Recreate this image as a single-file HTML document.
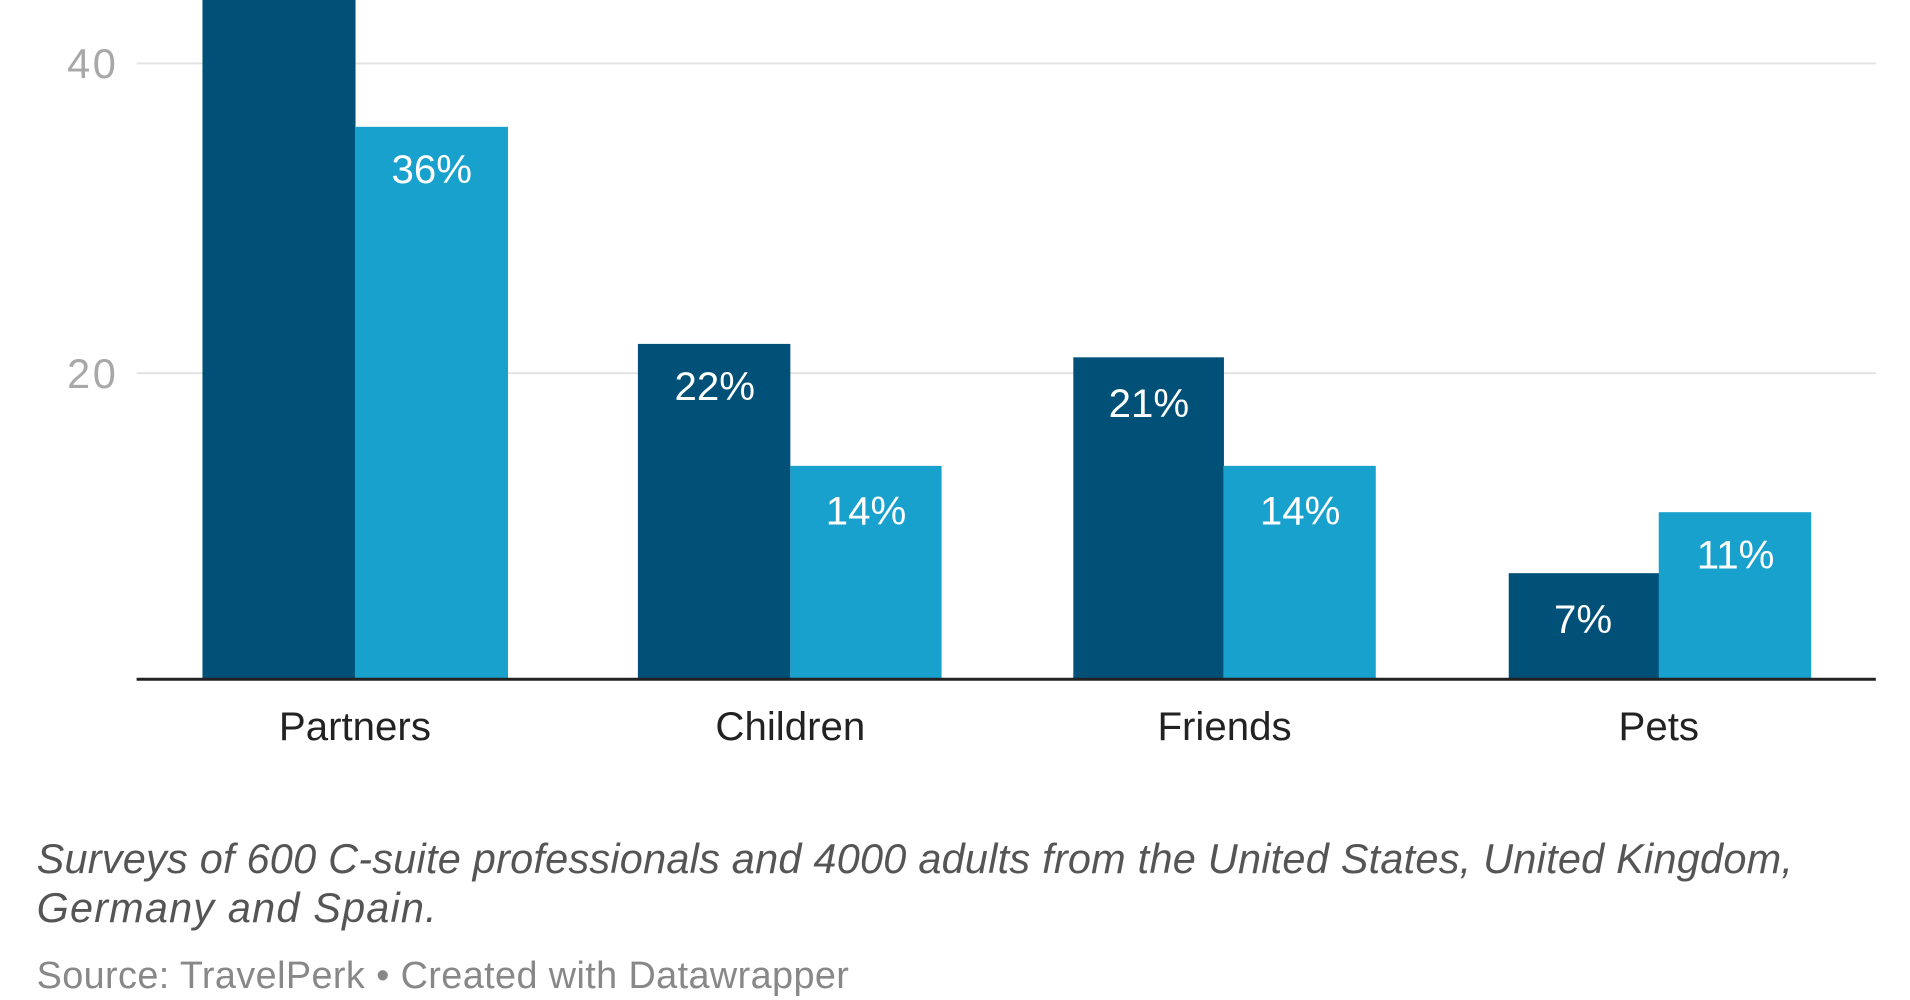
<!DOCTYPE html>
<html><head><meta charset="utf-8"><style>
html,body{margin:0;padding:0;background:#fff;width:1910px;height:1000px;overflow:hidden}
svg{display:block}
text{font-family:"Liberation Sans",sans-serif}
</style></head><body>
<svg width="1910" height="1000" viewBox="0 0 1566 820" preserveAspectRatio="none">
<line x1="112" y1="52" x2="1538" y2="52" stroke="#e2e2e2" stroke-width="1.5"/>
<line x1="112" y1="306" x2="1538" y2="306" stroke="#e2e2e2" stroke-width="1.5"/>
<text x="95" y="64" text-anchor="end" font-size="34" fill="#a8a8a8" textLength="40">40</text>
<text x="95" y="318" text-anchor="end" font-size="34" fill="#a8a8a8" textLength="40">20</text>
<g fill="#005077">
<rect x="166" y="0" width="125.5" height="557"/>
<rect x="523" y="282" width="125" height="275"/>
<rect x="880" y="293" width="123.5" height="264"/>
<rect x="1237" y="470" width="123.5" height="87"/>
</g>
<g fill="#18a1cd">
<rect x="291" y="104" width="125.5" height="453"/>
<rect x="648" y="382" width="124" height="175"/>
<rect x="1003" y="382" width="125" height="175"/>
<rect x="1360" y="420" width="125" height="137"/>
</g>
<line x1="112" y1="557" x2="1538" y2="557" stroke="#222" stroke-width="2.5"/>
<g fill="#fff" font-size="33" text-anchor="middle">
<text x="354" y="150">36%</text>
<text x="586" y="328">22%</text>
<text x="710" y="430">14%</text>
<text x="942" y="342">21%</text>
<text x="1066" y="430">14%</text>
<text x="1298" y="519">7%</text>
<text x="1423" y="466">11%</text>
</g>
<g fill="#222" font-size="33" text-anchor="middle">
<text x="291" y="607">Partners</text>
<text x="648" y="607">Children</text>
<text x="1004" y="607">Friends</text>
<text x="1360" y="607">Pets</text>
</g>
<g fill="#555" font-size="34" font-style="italic">
<text x="30" y="716" textLength="1440">Surveys of 600 C-suite professionals and 4000 adults from the United States, United Kingdom,</text>
<text x="30" y="756" textLength="328">Germany and Spain.</text>
</g>
<text x="30" y="810" fill="#888" font-size="31" textLength="666">Source: TravelPerk • Created with Datawrapper</text>
</svg>
</body></html>
